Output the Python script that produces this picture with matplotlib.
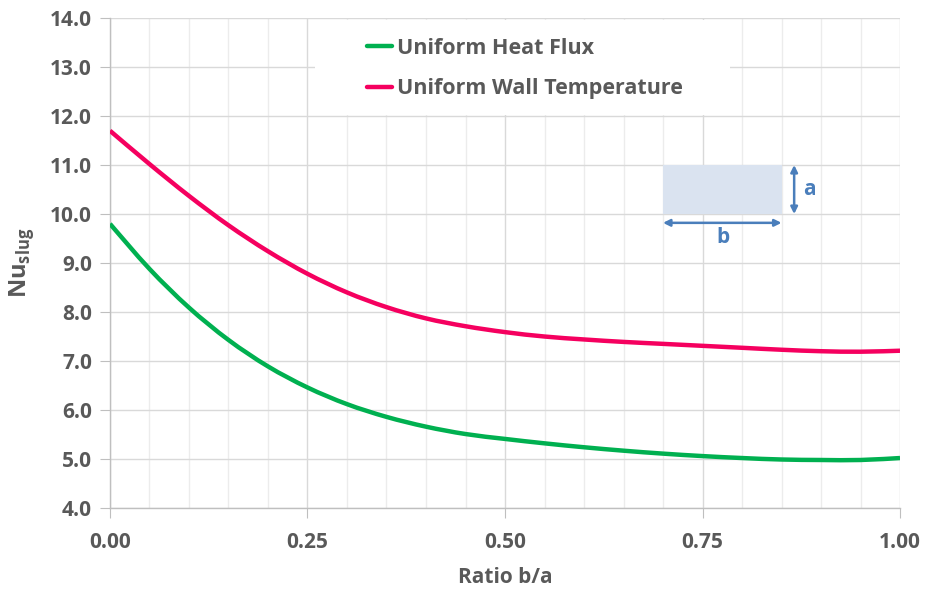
import matplotlib.pyplot as plt
from matplotlib.patches import Rectangle, PathPatch
from matplotlib.path import Path
from matplotlib.lines import Line2D
from matplotlib.ticker import MultipleLocator

ratio = [0.00, 0.05, 0.10, 0.15, 0.20, 0.25, 0.30, 0.35, 0.40, 0.45, 0.50,
         0.55, 0.60, 0.65, 0.70, 0.75, 0.80, 0.85, 0.90, 0.95, 1.00]
nu_heat_flux = [9.80, 8.88, 8.09, 7.43, 6.89, 6.46, 6.12, 5.86, 5.66, 5.51, 5.41,
                5.32, 5.24, 5.17, 5.11, 5.06, 5.02, 4.99, 4.98, 4.98, 5.02]
nu_wall_temp = [11.70, 11.02, 10.37, 9.77, 9.24, 8.78, 8.40, 8.10, 7.87, 7.71, 7.59,
                7.50, 7.44, 7.39, 7.35, 7.31, 7.27, 7.23, 7.20, 7.19, 7.21]
labels = ['Uniform Heat Flux', 'Uniform Wall Temperature']
colors = ['#00b050', '#f5005f']

plt.rcParams['font.family'] = ['Open Sans', 'DejaVu Sans']
plt.rcParams['font.weight'] = 'bold'
plt.rcParams['axes.labelweight'] = 'bold'
plt.rcParams['mathtext.fontset'] = 'custom'
plt.rcParams['mathtext.bf'] = 'Open Sans:bold'
plt.rcParams['mathtext.rm'] = 'Open Sans:bold'

text_col = '#595959'
blue = '#4a7ebb'


def smooth_path(xs, ys):
    # Excel-style smoothed line: Catmull-Rom segments as cubic Beziers
    verts = [(xs[0], ys[0])]
    codes = [Path.MOVETO]
    n = len(xs)
    for i in range(n - 1):
        x0, y0 = (xs[i - 1], ys[i - 1]) if i > 0 else (xs[i], ys[i])
        x1, y1 = xs[i], ys[i]
        x2, y2 = xs[i + 1], ys[i + 1]
        x3, y3 = (xs[i + 2], ys[i + 2]) if i + 2 < n else (x2, y2)
        verts += [(x1 + (x2 - x0) / 6, y1 + (y2 - y0) / 6),
                  (x2 - (x3 - x1) / 6, y2 - (y3 - y1) / 6),
                  (x2, y2)]
        codes += [Path.CURVE4] * 3
    return Path(verts, codes)


fig = plt.figure(figsize=(9.25, 5.89), dpi=100)
ax = fig.add_axes([0.1189, 0.1375, 0.8541, 0.8319])

for ys, c in zip([nu_heat_flux, nu_wall_temp], colors):
    ax.add_patch(PathPatch(smooth_path(ratio, ys), facecolor='none', edgecolor=c,
                           lw=3.2, capstyle='butt', zorder=3))

ax.set_xlim(0, 1)
ax.set_ylim(4, 14)
ax.xaxis.set_minor_locator(MultipleLocator(0.05))
ax.set_xticks([0, 0.25, 0.5, 0.75, 1.0], ['0.00', '0.25', '0.50', '0.75', '1.00'])
ax.set_yticks(range(4, 15), ['%.1f' % v for v in range(4, 15)])

ax.grid(which='major', color='#d9d9d9', lw=1.0, zorder=0)
ax.grid(which='minor', axis='x', color='#ececec', lw=1.0, zorder=0)
ax.set_axisbelow(True)
for s in ['top', 'right']:
    ax.spines[s].set_visible(False)
for s in ['left', 'bottom']:
    ax.spines[s].set_color('#bfbfbf')
    ax.spines[s].set_linewidth(1.0)
ax.tick_params(which='major', length=7, color='#bfbfbf', labelsize=15,
               labelcolor=text_col, pad=6)
ax.tick_params(which='minor', length=0)
ax.tick_params(axis='x', pad=10)

ax.set_xlabel('Ratio b/a', fontsize=15, color=text_col, labelpad=10)
ax.set_ylabel(r'$\mathbf{Nu}_{\mathbf{slug}}$', fontsize=17, color=text_col, labelpad=10)

# legend with white background box
ax.add_patch(Rectangle((0.26, 12.03), 0.525, 1.92, facecolor='white', edgecolor='none',
                       zorder=1))
handles = [Line2D([], [], color=c, lw=3.2, solid_capstyle='round') for c in colors]
leg = ax.legend(handles, labels, loc='upper left', bbox_to_anchor=(0.303, 0.995),
                frameon=False, fontsize=15.5, handlelength=1.2, handletextpad=0.2,
                labelspacing=0.9, borderpad=0.3)
for t in leg.get_texts():
    t.set_color(text_col)

# inset sketch of the duct cross-section
ax.add_patch(Rectangle((0.70, 10.0), 0.15, 1.0, facecolor='#dae3f0', edgecolor='none',
                       zorder=2))
ax.annotate('', xy=(0.866, 11.0), xytext=(0.866, 10.0),
            arrowprops=dict(arrowstyle='<|-|>', color=blue, lw=1.8,
                            mutation_scale=10, shrinkA=0, shrinkB=0))
ax.annotate('', xy=(0.70, 9.82), xytext=(0.85, 9.82),
            arrowprops=dict(arrowstyle='<|-|>', color=blue, lw=1.8,
                            mutation_scale=10, shrinkA=0, shrinkB=0))
ax.text(0.885, 10.5, 'a', color=blue, fontsize=15, ha='center', va='center')
ax.text(0.776, 9.52, 'b', color=blue, fontsize=15, ha='center', va='center')

fig.savefig('out.png', dpi=100)
